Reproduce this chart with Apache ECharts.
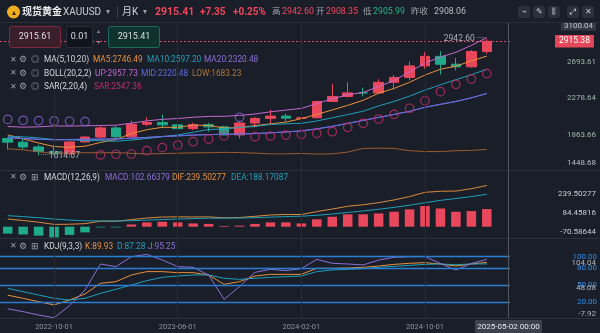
<!DOCTYPE html>
<html><head><meta charset="utf-8">
<script src="https://cdn.jsdelivr.net/npm/echarts@6/dist/echarts.min.js"></script>
<style>html,body{margin:0;padding:0;background:#1a1e29;overflow:hidden}#c{width:600px;height:333px}</style>
</head><body><div id="c"></div>
<script>
// ---------- data ----------
const months = ['2022-07-01','2022-08-01','2022-09-01','2022-10-01','2022-11-01','2022-12-01',
 '2023-01-01','2023-02-01','2023-03-01','2023-04-01','2023-05-01','2023-06-01','2023-07-01','2023-08-01','2023-09-01','2023-10-01','2023-11-01','2023-12-01',
 '2024-01-01','2024-02-01','2024-03-01','2024-04-01','2024-05-01','2024-06-01','2024-07-01','2024-08-01','2024-09-01','2024-10-01','2024-11-01','2024-12-01',
 '2025-01-01','2025-02-01','2025-03-01'];
const labelMonths = ['2022-10-01','2023-06-01','2024-02-01','2024-10-01'];
const open  = [1807.3,1765.9,1711.0,1660.6,1633.6,1768.5,1824.0,1928.4,1826.9,1969.3,1990.0,1963.0,1919.4,1965.1,1940.2,1848.6,1983.9,2036.4,2062.9,2039.6,2044.2,2229.9,2286.3,2327.3,2326.7,2447.6,2503.4,2634.6,2743.7,2653.8,2624.5,2798.4];
const close = [1765.9,1711.0,1660.6,1633.6,1768.5,1824.0,1928.4,1826.9,1969.3,1990.0,1963.0,1919.4,1965.1,1940.2,1848.6,1983.9,2036.4,2062.9,2039.6,2044.2,2229.9,2286.3,2327.3,2326.7,2447.6,2503.4,2634.6,2743.7,2653.8,2624.5,2798.4,2915.38];
const low   = [1681.0,1688.0,1614.67,1617.3,1616.7,1765.4,1804.8,1804.8,1809.5,1949.7,1932.1,1893.0,1902.8,1884.9,1846.2,1810.5,1931.6,1973.1,2001.9,1984.2,2038.9,2228.4,2277.2,2286.9,2353.6,2364.5,2471.9,2603.9,2536.8,2583.5,2614.8,2772.5];
const high  = [1814.0,1807.9,1735.2,1729.6,1786.3,1833.3,1949.2,1959.8,2009.7,2048.8,2079.8,1983.5,1987.5,1987.0,1953.0,2009.5,2052.1,2135.4,2088.5,2065.5,2236.8,2431.5,2450.1,2387.8,2483.7,2531.7,2685.6,2790.1,2801.8,2726.6,2817.2,2942.6];
const ma5   = [1848.9,1803.6,1756.4,1715.7,1707.9,1719.5,1763.0,1796.3,1863.4,1907.7,1935.5,1933.7,1961.4,1955.5,1927.3,1931.4,1954.8,1974.4,1994.3,2033.4,2082.6,2132.6,2185.5,2242.9,2323.6,2378.3,2447.9,2531.2,2596.6,2632.0,2691.0,2746.49];
const ma10  = [1833.6,1826.4,1815.0,1795.5,1792.7,1784.2,1783.3,1776.4,1789.6,1807.8,1827.5,1848.4,1878.8,1909.5,1917.5,1933.5,1944.3,1967.9,1974.9,1980.3,2007.0,2043.7,2079.9,2118.6,2178.5,2230.4,2290.3,2358.3,2419.8,2477.8,2534.6,2597.20];
const ma20  = [1817.0,1807.7,1798.3,1793.3,1796.3,1799.1,1800.2,1803.0,1810.7,1819.6,1830.6,1837.4,1846.9,1852.5,1855.1,1858.8,1863.8,1872.1,1882.2,1894.1,1917.3,1946.0,1979.4,2014.0,2048.0,2082.0,2117.3,2163.1,2197.3,2229.1,2270.8,2320.48];
const bollUp  = [1943.8,1936.7,1940.7,1950.8,1949.3,1952.1,1956.4,1959.0,1982.7,2008.6,2026.0,2035.2,2049.9,2059.3,2060.3,2070.4,2087.0,2111.3,2131.6,2150.5,2205.1,2259.4,2306.0,2333.4,2398.6,2469.0,2565.9,2667.5,2736.1,2789.7,2869.0,2957.73];
const bollMid = [1817.0,1807.7,1798.3,1793.3,1796.3,1799.1,1800.2,1803.0,1810.7,1819.6,1830.6,1837.4,1846.9,1852.5,1855.1,1858.8,1863.8,1872.1,1882.2,1894.1,1917.3,1946.0,1979.4,2014.0,2048.0,2082.0,2117.3,2163.1,2197.3,2229.1,2270.8,2320.48];
const bollLow = [1690.2,1678.7,1655.9,1635.8,1643.3,1646.1,1644.0,1647.0,1638.7,1630.6,1635.2,1639.6,1643.9,1645.7,1649.9,1647.2,1640.6,1632.9,1632.8,1637.7,1629.5,1632.6,1652.8,1694.6,1697.4,1695.0,1668.7,1658.7,1658.5,1668.5,1672.6,1683.23];
const sar   = [2025,2015,2012,2008,2004,2000,1620,1628,1631,1669,1703,1733,1771,1801,1839,2050,1828,1836,1847,1855,1867,1885,1935,1981,2030,2083,2152,2238,2341,2425,2485,2547.36];
const macdHist = [-40,-45,-52,-62,-48,-33,-4,-4,13,25,29,25,19,16,4,6,16,25,25,19,43,58,72,72,77,87,101,120,106,87,91,102.66379];
const dif   = [44.3,36.2,26.2,13.4,14.4,17.8,31.8,31.3,41.4,50.5,56.2,57.3,56.7,57.2,51.7,53.4,60.4,68.1,71.2,70.6,87.9,102.7,118.7,127.7,139.8,155.7,175.3,199.8,206.1,207.5,220.8,239.50277];
const dea   = [64.3,58.7,52.2,44.4,38.4,34.3,33.8,33.3,34.9,38.0,41.7,44.8,47.2,49.2,49.7,50.4,52.4,55.6,58.7,61.1,66.4,73.7,82.7,91.7,101.3,112.2,124.8,139.8,153.1,164.0,175.3,188.17087];
const kdjK  = [32,26.4,20.6,14.7,23.5,34.1,53,55.9,67.7,73.6,73.6,71.8,71.8,67.7,51.2,55.9,65.9,68.8,68.8,68.8,79.5,79.5,80.1,81.2,83.5,86.4,88.3,89.4,87.1,83.5,87.1,89.93];
const kdjD  = [44,38.2,32.3,26.4,23.5,26.4,35.3,42.3,50,57.7,63.5,65.9,67.7,67.7,61.8,60,61.8,63.5,64.7,65.9,73.6,76.5,77.7,78.8,81.2,82.9,84.7,86.4,87.1,85.9,87.1,87.28];
const kdjJ  = [8,2.9,-3,-7.92,13.5,41.2,87.1,82.4,100,104.04,94.2,82.4,81.2,67.7,24.7,47.1,72.4,77.7,75.3,79,95.3,88.3,87.1,85.4,94,98.9,100,100,88,76.5,88,95.25];
const priceTicks = [1448.68,1863.66,2278.64,2693.61,3100.04];
const macdTicks  = [239.50277,84.45816,-70.58644];
const kdjLevels  = [100,80,50,20];
const kdjAutoTicks = [104.04,48.08,-7.92];
const lastPrice = 2915.38, highMark = 2942.6, lowMark = 1614.67;

// ---------- style ----------
const FF = 'Roboto, "Noto Sans CJK SC", sans-serif';
const BG = '#1a1e29', RED = '#e9485c', GREEN = '#1fab8a', GRIDC = '#262b36';
const C_MA5 = '#e8913a', C_MA10 = '#1f9fb9', C_MA20 = '#8e6fd6', C_UP = '#c468d0', C_MID = '#5f6be2', C_LOW = '#9a5c2e', C_SAR = '#c2306a', C_SAR2 = '#8a62d4';
const KBLUE = '#2a7fd4';

const chart = echarts.init(document.getElementById('c'), null, {renderer:'canvas', width:600, height:333});
const candleData = open.map((o,i)=>[o, close[i], low[i], high[i]]);
const vLines = labelMonths.map(m=>({xAxis:m, lineStyle:{color:GRIDC, type:'solid', width:1}, label:{show:false}}));
const ln = (name, data, color, xi, yi, z) => ({type:'line', name, data, xAxisIndex:xi, yAxisIndex:yi, symbol:'none', smooth:false, silent:true, lineStyle:{color, width:1}, itemStyle:{color}, z: z||3});
const hideAxis = {axisLine:{show:false}, axisTick:{show:false}, splitLine:{show:false}};

const T = (x,y,text,color,size,extra) => ({type:'text', x, y, z:120, silent:true, style:Object.assign({text, fill:color, fontSize:size||8.5, fontFamily:FF, verticalAlign:'middle', align:'left'}, extra||{})});
const R = (x,y,w,h,fill,stroke,r) => ({type:'rect', z:110, silent:true, shape:{x,y,width:w,height:h,r:r||0}, style:{fill, stroke:stroke||null, lineWidth:1}});
const L = (x1,y1,x2,y2,color,z) => ({type:'line', z:z||105, silent:true, shape:{x1,y1,x2,y2}, style:{stroke:color, lineWidth:1}});

const ICON = '#9a9ea7', LBL = '#d3d6dc';
function legendRow(y, third, parts){
  const out = [T(10,y,'✕',ICON,7.5), T(19,y,'⚙',ICON,8.5), T(31,y,third,ICON,8.5)];
  parts.forEach(p=>out.push(T(p[0],y,p[1],p[2],8.3)));
  return out;
}
const graphics = [
  R(0,0,600,22,BG,null), L(0,22.5,600,22.5,'#2a2e39',112),
  {type:'circle', z:120, silent:true, shape:{cx:13.5,cy:12,r:6.5}, style:{fill:'#f0ae1f'}},
  T(13.5,12.5,'▴','#3a2800',8,{align:'center'}),
  T(22,12,'现货黄金','#eceef2',10,{fontWeight:'bold'}),
  T(63,12,'XAUUSD','#c9ccd3',10),
  T(106,12,'▾','#9a9ea7',8),
  L(117.5,6,117.5,18,'#3a3e48',120),
  T(122,12,'月K','#d0d3d9',10),
  T(143,12,'▾','#9a9ea7',8),
  T(155,12,'2915.41','#f0475b',10.5,{fontWeight:'bold'}),
  T(200,12,'+7.35','#f0475b',10,{fontWeight:'bold'}),
  T(233,12,'+0.25%','#f0475b',10,{fontWeight:'bold'}),
  T(272,12,'高','#a3a7ae',8.5), T(282,12,'2942.60','#f0475b',8.8),
  T(316,12,'开','#a3a7ae',8.5), T(326,12,'2908.35','#f0475b',8.8),
  T(363,12,'低','#a3a7ae',8.5), T(373,12,'2905.99','#25b089',8.8),
  T(411,12,'昨收','#a3a7ae',8.5), T(434,12,'2908.06','#b9bcc3',8.8),
  R(518,6,12,12,'#2b2f3a',null,2), T(524,12,'⌁','#c5c8ce',8,{align:'center'}),
  R(533,6,12,12,'#2b2f3a',null,2), T(539,12,'✎','#c5c8ce',8,{align:'center'}),
  R(548,6,12,12,'#2b2f3a',null,2), T(554,12,'⫼','#c5c8ce',8,{align:'center'}),
  R(567,6,12,12,'#2b2f3a',null,2), T(573,12,'⤢','#c5c8ce',8,{align:'center'}),
  R(582,6,12,12,'#2b2f3a',null,2), T(588,12,'✕','#c5c8ce',8,{align:'center'}),
  // order buttons
  R(9.5,26.5,51,21,'#3a1f2a','#7d2c3c',2), T(35,37,'2915.61','#dcdde2',9,{align:'center'}),
  R(66.5,26.5,26,21,'#11141c','#2a2e38',2), T(79.5,37,'0.01','#dcdde2',9,{align:'center'}),
  T(98,31.5,'▴','#8a8e97',6,{align:'center'}), T(98,42.5,'▾','#8a8e97',6,{align:'center'}),
  R(108.5,26.5,51,21,'#10322f','#1d6a5c',2), T(134,37,'2915.41','#dcdde2',9,{align:'center'}),
  // separators
  L(0,170.5,600,170.5,'#2c303b'), L(0,238.5,600,238.5,'#2c303b'), L(0,318.5,600,318.5,'#2c303b'),
  // crosshair
  L(508.5,23,508.5,318,'#50555f',106),
  R(475,320,67,13,'#3c414d',null,1), T(508.5,326.5,'2025-05-02 00:00','#e3e5e8',8,{align:'center'})
].concat(
  legendRow(60,'◎',[[44,'MA(5,10,20)',LBL],[93,'MA5:2746.49',C_MA5],[147,'MA10:2597.20',C_MA10],[204,'MA20:2320.48',C_MA20]]),
  legendRow(73.5,'◎',[[44,'BOLL(20,2,2)',LBL],[95,'UP:2957.73',C_UP],[141,'MID:2320.48',C_MID],[192,'LOW:1683.23','#b07838']]),
  legendRow(87,'◎',[[44,'SAR(2,20,4)',LBL],[94,'SAR:2547.36',C_SAR]]),
  legendRow(177.5,'⊞',[[44,'MACD(12,26,9)',LBL],[105,'MACD:102.66379',C_MA20],[172,'DIF:239.50277',C_MA5],[231,'DEA:188.17087',C_MA10]]),
  legendRow(246.5,'⊞',[[44,'KDJ(9,3,3)',LBL],[85,'K:89.93',C_MA5],[117,'D:87.28',C_MA10],[148,'J:95.25',C_MA20]])
);

const grids = [
  {left:-14, right:90, top:22, height:148},
  {left:-14, right:90, top:170, height:68},
  {left:-14, right:90, top:238, height:80}
];
const xAxes = [0,1,2].map(g=>Object.assign({gridIndex:g, type:'category', data:months, boundaryGap:true,
  axisLabel:{show:g===2, interval:(i,v)=>labelMonths.includes(v), color:'#8c9099', fontSize:7.5, margin:5, fontFamily:FF}}, hideAxis));
const near = (a,b)=>Math.abs(a-b)<1e-6;
const yAxes = [
  Object.assign({gridIndex:0, type:'value', position:'right', min:1448.68, max:3135,
    axisLabel:{customValues:priceTicks, margin:86, align:'right', fontFamily:FF, fontSize:8,
      formatter:v=> near(v,3100.04)?'{t|3100.04}': near(v,1448.68)?'{b|1448.68}':'{n|'+v.toFixed(2)+'}',
      rich:{n:{color:'#9fb6aa',fontSize:8,fontFamily:FF,padding:[2,0,0,0]}, t:{color:'#c3c6cc',fontSize:8,fontFamily:FF,backgroundColor:'#343945',padding:[2,3,1,3]}, b:{color:'#b8bcc4',fontSize:8,fontFamily:FF,padding:[0,0,15,0]}}}}, hideAxis),
  Object.assign({gridIndex:1, type:'value', position:'right', min:-65.7, max:329.7, axisLabel:{show:false}}, hideAxis),
  Object.assign({gridIndex:1, type:'value', position:'right', min:-119.9, max:439.4,
    axisLabel:{customValues:macdTicks, margin:86, align:'right', color:'#c9ccd2', fontSize:8, fontFamily:FF, formatter:v=>v.toFixed(5)}}, hideAxis),
  Object.assign({gridIndex:2, type:'value', position:'right', min:-8.3, max:133,
    axisLabel:{customValues:kdjLevels, margin:87, align:'right', color:'#2e8fe6', fontSize:8, fontFamily:FF, formatter:v=>v.toFixed(2)}}, hideAxis),
  Object.assign({gridIndex:2, type:'value', position:'right', min:-16.65, max:157.95,
    axisLabel:{customValues:kdjAutoTicks, margin:86, align:'right', color:'#b0b4bc', fontSize:8, fontFamily:FF, formatter:v=>v.toFixed(2)}}, hideAxis)
];

const series = [
  {type:'candlestick', xAxisIndex:0, yAxisIndex:0, data:candleData, barWidth:10, silent:true, z:2,
   itemStyle:{color:RED, color0:GREEN, borderColor:RED, borderColor0:GREEN, borderWidth:1},
   markLine:{silent:true, symbol:['none','none'], animation:false, data:[
     {yAxis:lastPrice, lineStyle:{color:RED, type:[2,2], width:1},
      label:{show:true, position:'end', distance:45, formatter:lastPrice.toFixed(2), color:'#ffffff', backgroundColor:'#e3475a', padding:[2,4,2,4], fontSize:8.5, fontFamily:FF}}
   ].concat(vLines)},
   markPoint:{silent:true, animation:false, data:[
     {coord:['2025-02-01', highMark], symbol:'rect', symbolSize:1, itemStyle:{color:'rgba(0,0,0,0)'},
      label:{show:true, position:'left', distance:1, formatter:highMark.toFixed(2)+' ─', color:'#a9adb5', fontSize:8.5, fontFamily:FF}},
     {coord:['2022-09-01', lowMark], symbol:'rect', symbolSize:1, itemStyle:{color:'rgba(0,0,0,0)'},
      label:{show:true, position:'right', distance:1, formatter:'····'+lowMark.toFixed(2), color:'#a9adb5', fontSize:8.5, fontFamily:FF}}
   ]}},
  ln('MA5', ma5, C_MA5, 0, 0),
  ln('MA10', ma10, C_MA10, 0, 0),
  ln('MA20', ma20, C_MA20, 0, 0),
  ln('UP', bollUp, C_UP, 0, 0),
  ln('MID', bollMid, C_MID, 0, 0),
  ln('LOW', bollLow, C_LOW, 0, 0),
  {type:'scatter', xAxisIndex:0, yAxisIndex:0, silent:true, z:4, symbol:'circle', symbolSize:8.5,
   data: sar.map((v,i)=>({value:v, itemStyle:{color:'rgba(0,0,0,0)', borderColor: v>close[i]?C_SAR2:C_SAR, borderWidth:1.2}}))},
  {type:'bar', xAxisIndex:1, yAxisIndex:1, barWidth:9.5, silent:true,
   data: macdHist.map(v=>({value:v, itemStyle:{color: v>=0?RED:GREEN}})),
   markLine:{silent:true, symbol:['none','none'], animation:false, data:vLines}},
  ln('DIF', dif, '#d98b3b', 1, 1),
  ln('DEA', dea, C_MA10, 1, 1),
  Object.assign(ln('K', kdjK, C_MA5, 2, 3), {markLine:{silent:true, symbol:['none','none'], animation:false,
     data: kdjLevels.map(v=>({yAxis:v, lineStyle:{color:KBLUE, width:1.3, type:'solid'}, label:{show:false}})).concat(vLines)}}),
  ln('D', kdjD, C_MA10, 2, 3),
  ln('J', kdjJ, C_MA20, 2, 3)
];

chart.setOption({backgroundColor:BG, animation:false, grid:grids, xAxis:xAxes, yAxis:yAxes, series, graphic:graphics});
</script></body></html>
